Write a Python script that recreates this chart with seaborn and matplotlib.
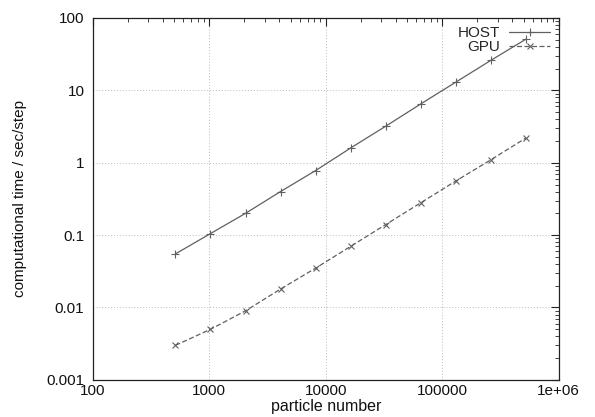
import matplotlib
matplotlib.use("Agg")
import matplotlib.pyplot as plt
import seaborn as sns
import pandas as pd
import numpy as np
from matplotlib.ticker import LogLocator, FixedLocator, FixedFormatter, NullFormatter

particles = [512, 1024, 2048, 4096, 8192, 16384, 32768, 65536, 131072, 262144, 524288]
host_time = [0.055, 0.105, 0.2, 0.4, 0.78, 1.6, 3.2, 6.5, 13, 26, 51]
gpu_time = [0.003, 0.005, 0.009, 0.018, 0.035, 0.07, 0.14, 0.28, 0.56, 1.1, 2.2]
x_ticks = [100, 1000, 10000, 100000, 1000000]
x_labels = ["100", "1000", "10000", "100000", "1e+06"]
y_ticks = [0.001, 0.01, 0.1, 1, 10, 100]
y_labels = ["0.001", "0.01", "0.1", "1", "10", "100"]

sns.set_style("white")
plt.rcParams['font.family'] = ['Liberation Sans', 'DejaVu Sans']

fig = plt.figure(figsize=(5.95, 4.17), dpi=100)
ax = fig.add_axes([0.156, 0.089, 0.783, 0.868])

df_host = pd.DataFrame({"x": particles, "y": host_time})
df_gpu = pd.DataFrame({"x": particles, "y": gpu_time})

line_col = "#606060"
sns.lineplot(data=df_host, x="x", y="y", ax=ax, color=line_col, lw=0.9,
             marker="+", markersize=5.5, markeredgewidth=0.8,
             markeredgecolor=line_col, label="HOST")
sns.lineplot(data=df_gpu, x="x", y="y", ax=ax, color=line_col, lw=0.9,
             linestyle=(0, (4, 2)), marker="x", markersize=4.5, markeredgewidth=0.8,
             markeredgecolor=line_col, label="GPU")

ax.set_xscale("log")
ax.set_yscale("log")
ax.set_xlim(100, 1e6)
ax.set_ylim(0.001, 100)

ax.xaxis.set_major_locator(FixedLocator(x_ticks))
ax.xaxis.set_major_formatter(FixedFormatter(x_labels))
ax.yaxis.set_major_locator(FixedLocator(y_ticks))
ax.yaxis.set_major_formatter(FixedFormatter(y_labels))
ax.xaxis.set_minor_locator(LogLocator(base=10, subs=np.arange(2, 10)))
ax.yaxis.set_minor_locator(LogLocator(base=10, subs=np.arange(2, 10)))
ax.xaxis.set_minor_formatter(NullFormatter())
ax.yaxis.set_minor_formatter(NullFormatter())

ax.tick_params(which="both", direction="in", top=True, right=True,
               color="#222222", labelsize=11, labelcolor="#111111")
ax.tick_params(which="major", length=6, width=0.8)
ax.tick_params(axis="x", which="major", pad=3)
ax.tick_params(axis="y", which="major", pad=6)
ax.tick_params(which="minor", length=3, width=0.6)

ax.grid(True, which="major", linestyle=(0, (1, 2)), color="#bbbbbb", lw=0.7)
for s in ax.spines.values():
    s.set_color("#222222")
    s.set_linewidth(0.9)

ax.set_xlabel("particle number", fontsize=11.5, color="#111111", labelpad=1)
ax.set_ylabel("computational time / sec/step", fontsize=11, color="#111111", labelpad=14)

leg = ax.legend(loc="upper right", frameon=False, markerfirst=False,
                fontsize=11, handlelength=2.7, handletextpad=0.6,
                borderaxespad=0.45, borderpad=0.1, labelspacing=0.0)

fig.savefig("out.png", dpi=100)
